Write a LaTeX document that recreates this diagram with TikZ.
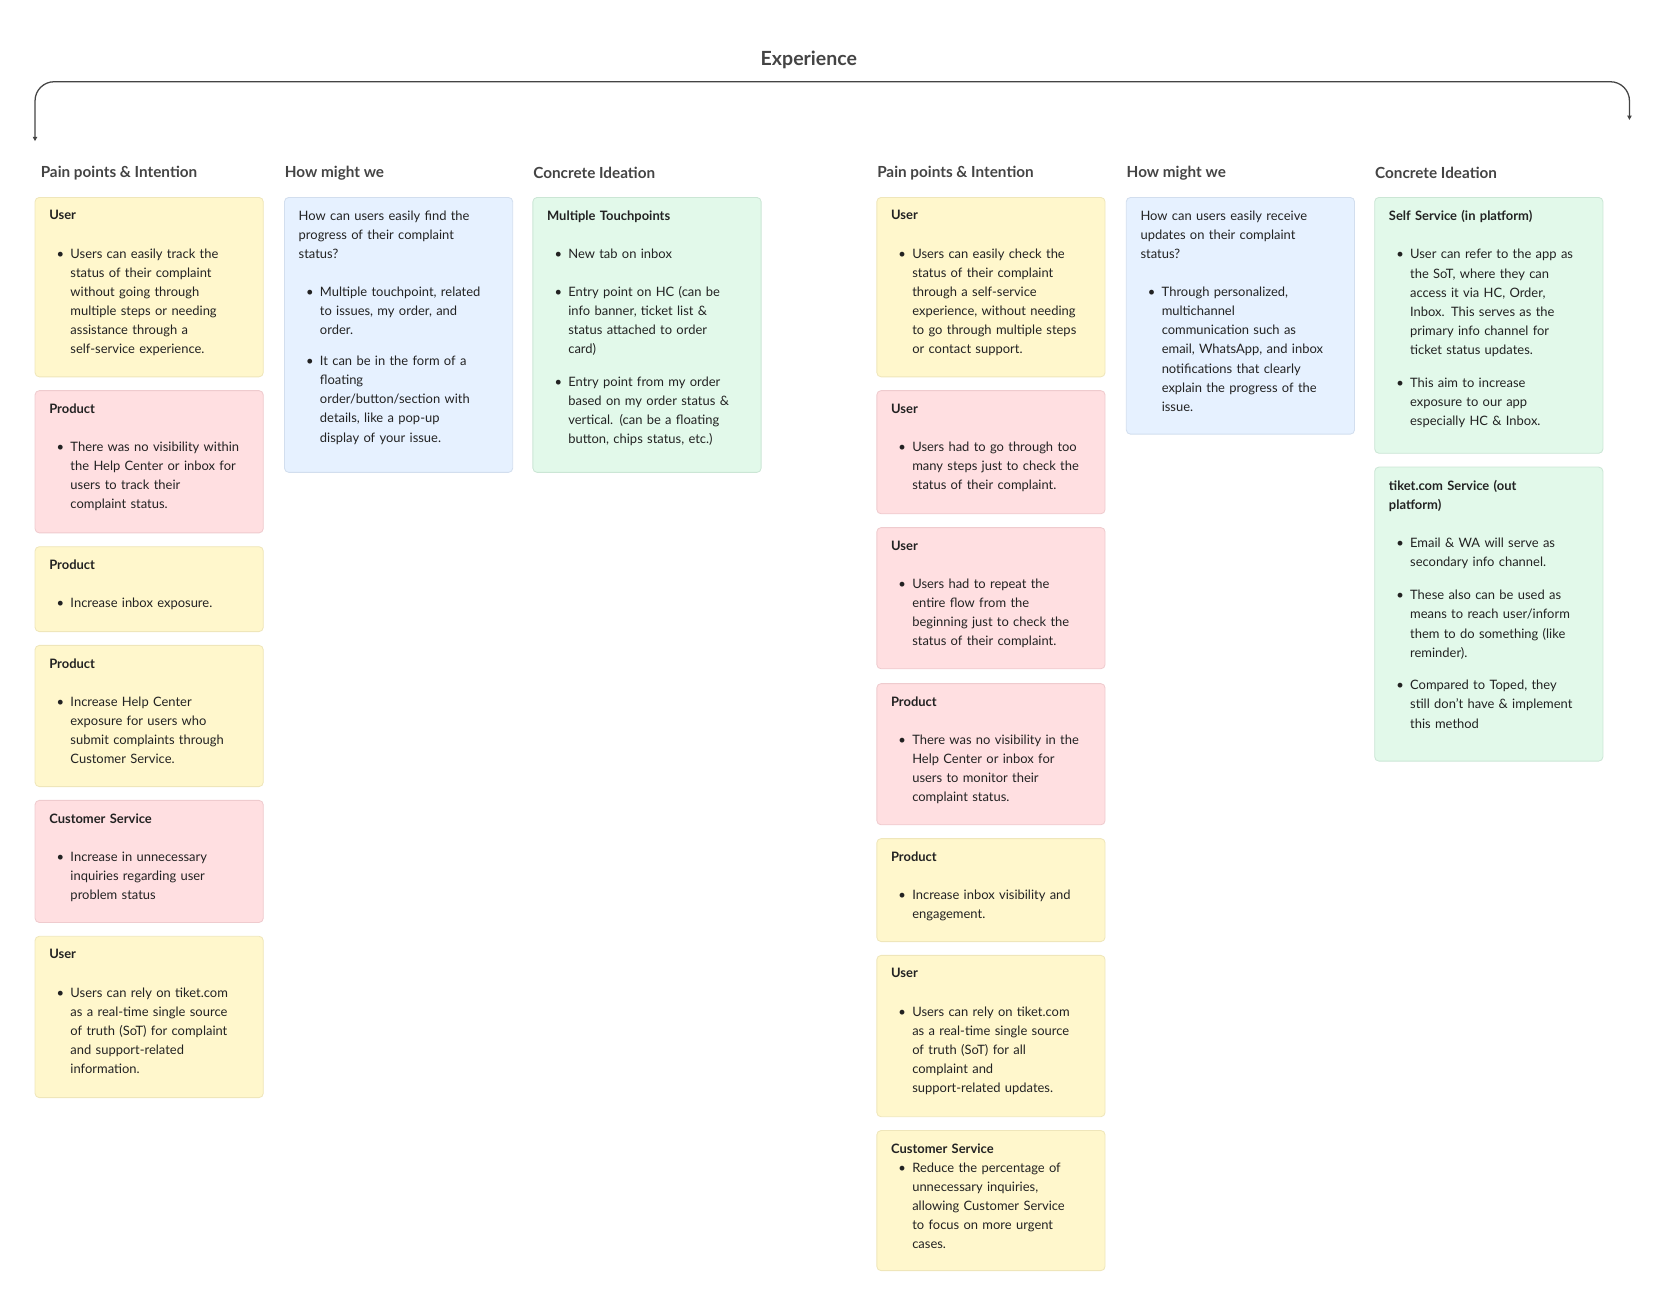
\documentclass[tikz,border=0pt]{standalone}
\usepackage{fontspec}
\setmainfont{Lato}
\usetikzlibrary{arrows.meta}
\definecolor{cy}{HTML}{FFF7CC}\definecolor{cyb}{HTML}{EFE6BA}
\definecolor{cp}{HTML}{FFDFE1}\definecolor{cpb}{HTML}{EFCBCE}
\definecolor{cb}{HTML}{E6F1FF}\definecolor{cbb}{HTML}{D2DEEE}
\definecolor{cg}{HTML}{E2F9EA}\definecolor{cgb}{HTML}{CBE6D5}
\definecolor{tx}{HTML}{222222}\definecolor{hd}{HTML}{444444}
\newcommand\bul[1]{\par\noindent\hspace*{3.5pt}\makebox[6.5pt][l]{•}\parbox[t]{110pt}{#1}\par\vspace{9pt}}
\newcommand\ttl[1]{\textbf{#1}\par\vspace{9pt}}
\newcommand\card[6]{%
  \path[draw=#5b, fill=#5, rounded corners=2pt, line width=0.4pt] (#2,#3) rectangle ({#2+215},#4);
  \node[cardtext] (#1) at ({#2+13},{#3+12}) {#6};}
\tikzset{cardtext/.style={anchor=north west, inner sep=0pt, text width=105pt, text=tx,
   font=\fontsize{6.1}{9}\selectfont},
  colhead/.style={anchor=west, inner sep=0pt, text=hd, font=\fontsize{7.2}{9}\selectfont\bfseries}}
\begin{document}
\begin{tikzpicture}[x=0.5pt,y=-0.5pt]
\useasboundingbox (0,0) rectangle (1560,1235);
\node[text=hd, font=\fontsize{9.2}{11}\selectfont\bfseries] (title) at (762,56) {Experience};
\coordinate (bl) at (33,133); \coordinate (br) at (1535,113);
\draw[hd, line width=0.6pt, {Triangle[length=2pt,width=2pt]}-{Triangle[length=2pt,width=2pt]}, rounded corners=9pt]
  (bl) -- (33,77) -- (1535,77) -- (br);
\foreach \x/\t [count=\i] in {38/Pain points \& Intention, 268/How might we, 502/Concrete Ideation, 826/Pain points \& Intention, 1061/How might we, 1295/Concrete Ideation}
  \node[colhead] (h\i) at (\x,163) {\t};
% column 1
\card{a1}{33}{186}{355}{cy}{\ttl{User}\bul{Users can easily track the\\status of their complaint\\without going through\\multiple steps or needing\\assistance through a\\self-service experience.}}
\card{a2}{33}{368}{502}{cp}{\ttl{Product}\bul{There was no visibility within\\the Help Center or inbox for\\users to track their\\complaint status.}}
\card{a3}{33}{515}{595}{cy}{\ttl{Product}\bul{Increase inbox exposure.}}
\card{a4}{33}{608}{741}{cy}{\ttl{Product}\bul{Increase Help Center\\exposure for users who\\submit complaints through\\Customer Service.}}
\card{a5}{33}{754}{869}{cp}{\ttl{Customer Service}\bul{Increase in unnecessary\\inquiries regarding user\\problem status}}
\card{a6}{33}{882}{1034}{cy}{\ttl{User}\bul{Users can rely on tiket.com\\as a real-time single source\\of truth (SoT) for complaint\\and support-related\\information.}}
% column 2
\card{b1}{268}{186}{445}{cb}{How can users easily find the\\progress of their complaint\\status?\par\vspace{9pt}\bul{Multiple touchpoint, related\\to issues, my order, and\\order.}\bul{It can be in the form of a\\floating\\order/button/section with\\details, like a pop-up\\display of your issue.}}
% column 3
\card{c1}{502}{186}{445}{cg}{\ttl{Multiple Touchpoints}\bul{New tab on inbox}\bul{Entry point on HC (can be\\info banner, ticket list \&\\status attached to order\\card)}\bul{Entry point from my order\\based on my order status \&\\vertical. (can be a floating\\button, chips status, etc.)}}
% column 4
\card{d1}{826}{186}{355}{cy}{\ttl{User}\bul{Users can easily check the\\status of their complaint\\through a self-service\\experience, without needing\\to go through multiple steps\\or contact support.}}
\card{d2}{826}{368}{484}{cp}{\ttl{User}\bul{Users had to go through too\\many steps just to check the\\status of their complaint.}}
\card{d3}{826}{497}{630}{cp}{\ttl{User}\bul{Users had to repeat the\\entire flow from the\\beginning just to check the\\status of their complaint.}}
\card{d4}{826}{644}{777}{cp}{\ttl{Product}\bul{There was no visibility in the\\Help Center or inbox for\\users to monitor their\\complaint status.}}
\card{d5}{826}{790}{887}{cy}{\ttl{Product}\bul{Increase inbox visibility and\\engagement.}}
\card{d6}{826}{900}{1052}{cy}{\ttl{User}\bul{Users can rely on tiket.com\\as a real-time single source\\of truth (SoT) for all\\complaint and\\support-related updates.}}
\card{d7}{826}{1065}{1197}{cy}{\textbf{Customer Service}\bul{Reduce the percentage of\\unnecessary inquiries,\\allowing Customer Service\\to focus on more urgent\\cases.}}
% column 5
\card{e1}{1061}{186}{409}{cb}{How can users easily receive\\updates on their complaint\\status?\par\vspace{9pt}\bul{Through personalized,\\multichannel\\communication such as\\email, WhatsApp, and inbox\\notifications that clearly\\explain the progress of the\\issue.}}
% column 6
\card{f1}{1295}{186}{427}{cg}{\ttl{Self Service (in platform)}\bul{User can refer to the app as\\the SoT, where they can\\access it via HC, Order,\\Inbox. This serves as the\\primary info channel for\\ticket status updates.}\bul{This aim to increase\\exposure to our app\\especially HC \& Inbox.}}
\card{f2}{1295}{440}{717}{cg}{\textbf{tiket.com Service (out\\platform)}\par\vspace{9pt}\bul{Email \& WA will serve as\\secondary info channel.}\bul{These also can be used as\\means to reach user/inform\\them to do something (like\\reminder).}\bul{Compared to Toped, they\\still don’t have \& implement\\this method}}
\end{tikzpicture}
\end{document}
